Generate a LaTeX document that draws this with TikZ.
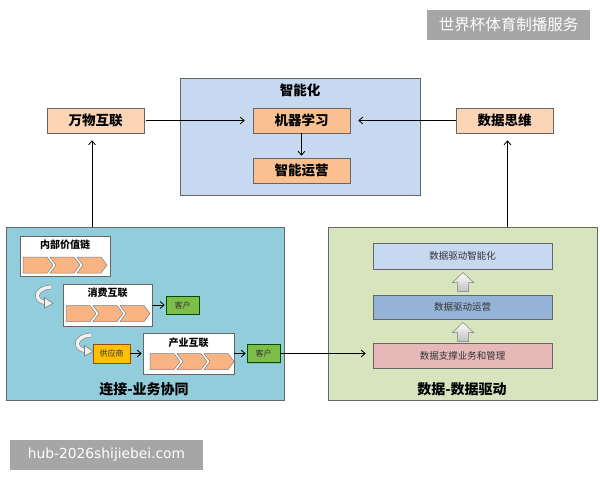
\documentclass[tikz,border=0pt]{standalone}
\usepackage{fontspec}
\setmainfont{Noto Sans CJK SC}
\newfontfamily\wmfont{DejaVu Sans}
\usetikzlibrary{arrows.meta,shadows,calc}
\definecolor{topblue}{HTML}{C6D9F1}
\definecolor{leftblue}{HTML}{92CDDC}
\definecolor{rightgreen}{HTML}{D7E4BD}
\definecolor{orangebox}{HTML}{FAC090}
\definecolor{chevorange}{HTML}{F8B583}
\definecolor{peachbox}{HTML}{FBD5B5}
\definecolor{midblue}{HTML}{95B3D7}
\definecolor{pinkbox}{HTML}{E6B9B8}
\definecolor{greenbox}{HTML}{7DBE4A}
\definecolor{yellowbox}{HTML}{FFC000}
\definecolor{wmgray}{HTML}{A6A6A6}
\definecolor{edgegray}{HTML}{7F7F7F}
\begin{document}
\begin{tikzpicture}[x=1pt,y=-1pt,
  box/.style={draw=edgegray!80!black, line width=0.6pt, inner sep=0pt,
    drop shadow={shadow xshift=1.2pt, shadow yshift=-1.2pt, opacity=0.3}},
  bigtitle/.style={font=\bfseries\fontsize{13.5}{15}\selectfont, inner sep=0pt},
  smalltitle/.style={font=\bfseries\fontsize{10}{12}\selectfont, inner sep=0pt},
  tinytext/.style={font=\fontsize{8}{10}\selectfont, text=black!80},
  datatext/.style={font=\fontsize{9.5}{11}\selectfont, text=black!80},
  conn/.style={draw=black, line width=0.8pt, -{Straight Barb[length=4pt,width=7pt]}},
  chevfill/.style={fill=chevorange, draw=edgegray, line width=0.5pt},
  hookline/.style={draw=edgegray, double=gray!12, double distance=3.4pt, line width=0.6pt},
  uparrow/.style={draw=edgegray, line width=0.5pt, top color=white, bottom color=gray!50},
  wm/.style={fill=wmgray, text=white, inner sep=0pt}
]
\useasboundingbox (0,0) rectangle (600,480);
\fill[white] (0,0) rectangle (600,480);

% watermarks
\node[wm, minimum width=163pt, minimum height=30pt, font=\fontsize{15.5}{17}\selectfont] (wmtop) at (508.5,25) {世界杯体育制播服务};
\node[wm, minimum width=193pt, minimum height=30pt, font=\wmfont\fontsize{13.8}{16}\selectfont] (wmbot) at (106.5,455) {hub-2026shijiebei.com};

% top panel
\node[box, fill=topblue, minimum width=240pt, minimum height=117pt] (top) at (300,136.5) {};
\node[bigtitle] (toptitle) at (300,90.5) {智能化};
\node[box, fill=orangebox, minimum width=97pt, minimum height=25pt, font=\bfseries\fontsize{13.5}{15}\selectfont] (ml) at (301.5,120.5) {机器学习};
\node[box, fill=orangebox, minimum width=97pt, minimum height=25pt, font=\bfseries\fontsize{13.5}{15}\selectfont] (ops) at (301.5,170.5) {智能运营};
\node[box, fill=peachbox, minimum width=97pt, minimum height=25pt, font=\bfseries\fontsize{13.5}{15}\selectfont] (wwhl) at (95.5,120.5) {万物互联};
\node[box, fill=peachbox, minimum width=97pt, minimum height=25pt, font=\bfseries\fontsize{13.5}{15}\selectfont] (sjsw) at (504.5,120.5) {数据思维};

% bottom panels
\node[box, fill=leftblue, minimum width=278pt, minimum height=173pt] (left) at (145,313.5) {};
\node[box, fill=rightgreen, minimum width=269pt, minimum height=173pt] (right) at (462.5,313.5) {};
\node[bigtitle, font=\bfseries\fontsize{14}{16}\selectfont] (lefttitle) at (144,389) {连接-业务协同};
\node[bigtitle, font=\bfseries\fontsize{14}{16}\selectfont] (righttitle) at (462,389) {数据-数据驱动};

% left inner: value chain boxes
\node[box, fill=white, minimum width=90pt, minimum height=40pt] (nb) at (65,256) {};
\node[smalltitle] (nbt) at (65,245) {内部价值链};
\node[box, fill=white, minimum width=89pt, minimum height=42pt] (xf) at (107.5,305) {};
\node[smalltitle] (xft) at (107.5,293) {消费互联};
\node[box, fill=white, minimum width=91pt, minimum height=41pt] (cy) at (188.5,353.5) {};
\node[smalltitle] (cyt) at (188.5,343) {产业互联};

\node[box, fill=greenbox, draw=green!30!black, minimum width=33pt, minimum height=18pt, tinytext] (kh1) at (182.5,305) {客户};
\node[box, fill=yellowbox, draw=orange!60!black, minimum width=37pt, minimum height=19pt, tinytext] (gys) at (111.5,353.5) {供应商};
\node[box, fill=greenbox, draw=green!30!black, minimum width=33pt, minimum height=18pt, tinytext] (kh2) at (263.5,353.5) {客户};

% chevrons
\foreach \bx/\by in {23/257, 66/305.5, 150/353.5}{
  \draw[chevfill] (\bx,\by) -- ++(24,0) -- ++(6,8) -- ++(-6,8) -- ++(-24,0) -- cycle;
  \draw[chevfill] (\bx+27,\by) -- ++(24,0) -- ++(6,8) -- ++(-6,8) -- ++(-24,0) -- ++(6,-8) -- cycle;
  \draw[chevfill] (\bx+54,\by) -- ++(24,0) -- ++(6,8) -- ++(-6,8) -- ++(-24,0) -- ++(6,-8) -- cycle;
}

% hook arrows
\foreach \hx/\hy in {37/286, 77/334}{
  \draw[hookline] (\hx+14,\hy+1) .. controls (\hx-3,\hy+2) and (\hx-3,\hy+15) .. (\hx+8,\hy+16.5);
  \draw[draw=edgegray, fill=gray!12, line width=0.6pt] (\hx+7.5,\hy+11.5) -- (\hx+16,\hy+17.5) -- (\hx+7.5,\hy+22) -- cycle;
}

% right inner
\node[box, fill=topblue, minimum width=179pt, minimum height=26pt, datatext] (d1) at (462.5,256) {数据驱动智能化};
\node[box, fill=midblue, minimum width=179pt, minimum height=24pt, datatext] (d2) at (462.5,307) {数据驱动运营};
\node[box, fill=pinkbox, minimum width=179pt, minimum height=25pt, datatext] (d3) at (462.5,355.5) {数据支撑业务和管理};

\foreach \ax/\ay in {463/291.5, 463/341.5}{
  \draw[uparrow] (\ax-5.5,\ay) -- (\ax-5.5,\ay-9) -- (\ax-10.5,\ay-9) -- (\ax,\ay-19) -- (\ax+10.5,\ay-9) -- (\ax+5.5,\ay-9) -- (\ax+5.5,\ay) -- cycle;
}

% connectors
\draw[conn, shorten <=2pt, shorten >=8pt] (wwhl.east) -- (ml.west);
\draw[conn, shorten >=8pt] (sjsw.west) -- (ml.east);
\draw[conn, shorten >=2pt] (ml.south) -- (ops.north);
\draw[conn, shorten >=7pt] (left.north -| 92,0) -- (92,0 |- wwhl.south);
\draw[conn, shorten >=7pt] (right.north -| 507.5,0) -- (507.5,0 |- sjsw.south);
\draw[conn, shorten >=1pt] (xf.east) -- (kh1.west);
\draw[conn, shorten >=1pt] (gys.east) -- (cy.west);
\draw[conn, shorten >=1pt] (cy.east) -- (kh2.west);
\draw[conn, shorten >=7pt] (kh2.east) -- (kh2.east -| d3.west);
\end{tikzpicture}
\end{document}
